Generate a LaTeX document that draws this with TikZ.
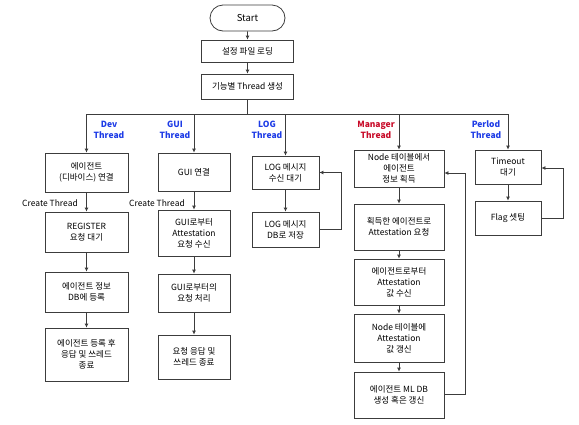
\documentclass[tikz,border=0pt]{standalone}
\usepackage{fontspec}
\setmainfont{Noto Sans CJK KR}
\usetikzlibrary{arrows.meta,shapes.misc}
\definecolor{tblue}{RGB}{30,60,230}
\definecolor{tred}{RGB}{200,10,40}
\definecolor{lc}{RGB}{60,60,60}
\begin{document}
\begin{tikzpicture}[x=1pt,y=-1pt,
  box/.style={draw=lc,line width=0.8pt,fill=white,inner sep=1pt,align=center,font=\fontsize{8.5}{11}\selectfont},
  arr/.style={draw=lc,line width=0.8pt,-{Latex[length=4pt,width=4pt]}},
  ln/.style={draw=lc,line width=0.8pt},
  tl/.style={font=\fontsize{8.5}{11}\selectfont\bfseries,align=center,inner sep=0pt},
  ct/.style={font=\fontsize{8.5}{11}\selectfont,inner sep=0pt}]
\useasboundingbox (0,0) rectangle (579,424);
% top
\node[box,rounded rectangle,minimum width=77pt,minimum height=26pt] (s) at (247.5,18) {\fontsize{9.5}{11}\selectfont Start};
\node[box,minimum width=92pt,minimum height=22pt] (a1) at (247.5,51) {설정 파일 로딩};
\node[box,minimum width=92pt,minimum height=25pt] (a2) at (247.5,86.5) {기능별 Thread 생성};
\draw[arr] (s) -- (a1);
\draw[arr] (a1) -- (a2);
\coordinate (bus) at (247.5,114);
% Dev
\node[box,minimum width=83pt,minimum height=39pt] (d1) at (86.5,172.5) {에이전트\\(디바이스) 연결};
\node[box,minimum width=83pt,minimum height=40pt] (d2) at (86.5,232) {REGISTER\\요청 대기};
\node[box,minimum width=83pt,minimum height=40pt] (d3) at (86.5,292) {에이전트 정보\\DB에 등록};
\node[box,minimum width=83pt,minimum height=53pt] (d4) at (86.5,354.5) {에이전트 등록 후\\응답 및 쓰레드\\종료};
% GUI
\node[box,minimum width=72pt,minimum height=38pt] (g1) at (194,172) {GUI 연결};
\node[box,minimum width=72pt,minimum height=46pt] (g2) at (194,233) {GUI로부터\\Attestation\\요청 수신};
\node[box,minimum width=72pt,minimum height=38pt] (g3) at (194,293) {GUI로부터의\\요청 처리};
\node[box,minimum width=72pt,minimum height=44pt] (g4) at (194,357) {요청 응답 및\\쓰레드 종료};
% LOG
\node[box,minimum width=67pt,minimum height=33pt] (l1) at (285.5,172.5) {LOG 메시지\\수신 대기};
\node[box,minimum width=67pt,minimum height=35pt] (l2) at (285.5,229.5) {LOG 메시지\\DB로 저장};
% Manager
\node[box,minimum width=90pt,minimum height=37pt] (m1) at (399,168.5) {Node 테이블에서\\에이전트\\정보 획득};
\node[box,minimum width=90pt,minimum height=46pt] (m2) at (399,227) {획득한 에이전트로\\Attestation 요청};
\node[box,minimum width=90pt,minimum height=46pt] (m3) at (399,282) {에이전트로부터\\Attestation\\값 수신};
\node[box,minimum width=90pt,minimum height=48pt] (m4) at (399,338) {Node 테이블에\\Attestation\\값 갱신};
\node[box,minimum width=90pt,minimum height=46pt] (m5) at (399,395) {에이전트 ML DB\\생성 혹은 갱신};
% Period
\node[box,minimum width=66pt,minimum height=34pt] (p1) at (508,167) {Timeout\\대기};
\node[box,minimum width=66pt,minimum height=34pt] (p2) at (508,218) {Flag 셋팅};
% bus
\draw[ln] (a2) -- (bus);
\draw[ln] (d1.north |- bus) -- (p1.north |- bus);
\draw[arr] (d1.north |- bus) -- (d1);
\draw[arr] (g1.north |- bus) -- (g1);
\draw[arr] (l1.north |- bus) -- (l1);
\draw[arr] (m1.north |- bus) -- (m1);
\draw[arr] (p1.north |- bus) -- (p1);
% thread labels
\node[tl,text=tblue] (tdev) at (109,129.5) {Dev\\Thread};
\node[tl,text=tblue] (tgui) at (175,129.5) {GUI\\Thread};
\node[tl,text=tblue] (tlog) at (267,129.5) {LOG\\Thread};
\node[tl,text=tred] (tman) at (376,129.5) {Manager\\Thread};
\node[tl,text=tblue] (tper) at (486,129.5) {Perlod\\Thread};
% columns
\draw[arr] (d1) -- (d2);
\draw[arr] (d2) -- (d3);
\draw[arr] (d3) -- (d4);
\draw[arr] (g1) -- (g2);
\draw[arr] (g2) -- (g3);
\draw[arr] (g3) -- (g4);
\draw[arr] (l1) -- (l2);
\draw[arr] (m1) -- (m2);
\draw[arr] (m2) -- (m3);
\draw[arr] (m3) -- (m4);
\draw[arr] (m4) -- (m5);
\draw[arr] (p1) -- (p2);
\node[ct] (cd) at (50,203) {Create Thread};
\node[ct] (cg) at (157,203) {Create Thread};
% loops
\draw[arr] (l2.east) -- ++(22,0) |- (l1.east);
\draw[arr] ([yshift=1pt]m5.east) -- ++(21,0) |- ([yshift=-4.5pt]m1.east);
\draw[arr] (p2.east) -- ++(22,0) |- ([yshift=-1pt]p1.east);
\end{tikzpicture}
\end{document}
